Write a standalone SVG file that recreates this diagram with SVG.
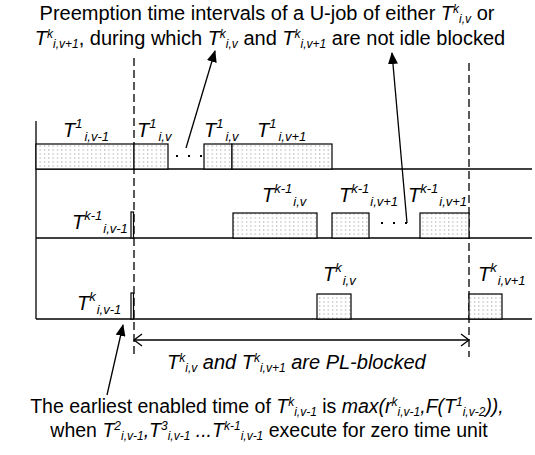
<svg xmlns="http://www.w3.org/2000/svg" width="535" height="455" viewBox="0 0 535 455">
<style>
text{font-family:"Liberation Sans",Arial,sans-serif;fill:#000}
.t{font-size:20px}
.b{font-size:19.5px}
.it{font-style:italic}
.s{font-size:12px}
.lb{font-size:20px;font-style:italic}
.ls{font-size:13px}
.ln{stroke:#000;stroke-width:1.3;fill:none}
.dash{stroke:#000;stroke-width:1.3;stroke-dasharray:8,4;fill:none}
.job{fill:url(#dots);stroke:#000;stroke-width:1.2}
.arr{stroke:#000;stroke-width:1.3;fill:none;marker-end:url(#ah)}
</style>
<defs>
<pattern id="dots" width="4.3" height="4" patternUnits="userSpaceOnUse">
<rect width="4.3" height="4" fill="#fff"/>
<rect x="1" y="1.5" width="1" height="1" fill="#888"/>
</pattern>
<marker id="ah" markerWidth="12" markerHeight="10" refX="11" refY="5" orient="auto" markerUnits="userSpaceOnUse">
<path d="M0,0 L12,5 L0,10 Z" fill="#000"/>
</marker>
</defs>

<g id="top-label">
<text class="t" x="267" y="20" text-anchor="middle">Preemption time intervals of a U-job of either <tspan class="it">T</tspan><tspan class="s it" dy="-7">k</tspan><tspan class="s it" dy="10">i,v</tspan><tspan dy="-3"> or</tspan></text>
<text class="t" x="270" y="44.5" text-anchor="middle"><tspan class="it">T</tspan><tspan class="s it" dy="-7">k</tspan><tspan class="s it" dy="10">i,v+1</tspan><tspan dy="-3">, during which </tspan><tspan class="it">T</tspan><tspan class="s it" dy="-7">k</tspan><tspan class="s it" dy="10">i,v</tspan><tspan dy="-3"> and </tspan><tspan class="it">T</tspan><tspan class="s it" dy="-7">k</tspan><tspan class="s it" dy="10">i,v+1</tspan><tspan dy="-3"> are not idle blocked</tspan></text>
</g>

<g id="axes">
<line class="ln" x1="36" y1="121" x2="36" y2="319"/>
<line class="ln" x1="36" y1="169" x2="532" y2="169"/>
<line class="ln" x1="36" y1="238" x2="532" y2="238"/>
<line class="ln" x1="36" y1="319" x2="532" y2="319"/>
<line class="dash" x1="134" y1="58" x2="134" y2="355"/>
<line class="dash" x1="469" y1="63" x2="469" y2="357"/>
</g>

<g id="row1">
<rect class="job" x="36" y="144" width="98" height="25"/>
<rect class="job" x="134" y="144" width="34" height="25"/>
<rect class="job" x="204" y="144" width="28" height="25"/>
<rect class="job" x="232" y="144" width="100" height="25"/>
<rect x="176" y="155" width="2" height="2"/>
<rect x="188" y="155" width="2" height="2"/>
<rect x="200" y="155" width="2" height="2"/>
<text class="lb" x="63" y="137">T<tspan class="ls" dy="-9">1</tspan><tspan class="ls" dx="2" dy="13">i,v-1</tspan></text>
<text class="lb" x="137" y="137">T<tspan class="ls" dy="-9">1</tspan><tspan class="ls" dx="2" dy="13">i,v</tspan></text>
<text class="lb" x="204" y="137">T<tspan class="ls" dy="-9">1</tspan><tspan class="ls" dx="2" dy="13">i,v</tspan></text>
<text class="lb" x="257" y="137">T<tspan class="ls" dy="-9">1</tspan><tspan class="ls" dx="2" dy="13">i,v+1</tspan></text>
</g>

<g id="row2">
<rect class="job" x="131" y="212" width="2.5" height="26"/>
<rect class="job" x="233" y="213" width="84" height="25"/>
<rect class="job" x="332" y="213" width="37" height="25"/>
<rect class="job" x="420" y="213" width="49" height="25"/>
<rect x="381" y="222" width="2" height="2"/>
<rect x="393" y="222" width="2" height="2"/>
<rect x="405" y="222" width="2" height="2"/>
<text class="lb" x="72" y="229">T<tspan class="ls" dy="-9">k-1</tspan><tspan class="ls" dx="1" dy="13">i,v-1</tspan></text>
<text class="lb" x="262" y="202">T<tspan class="ls" dy="-9">k-1</tspan><tspan class="ls" dx="1" dy="13">i,v</tspan></text>
<text class="lb" x="339" y="202">T<tspan class="ls" dy="-9">k-1</tspan><tspan class="ls" dx="1" dy="13">i,v+1</tspan></text>
<text class="lb" x="408" y="202">T<tspan class="ls" dy="-9">k-1</tspan><tspan class="ls" dx="1" dy="13">i,v+1</tspan></text>
</g>

<g id="row3">
<rect class="job" x="131" y="293" width="2.5" height="26"/>
<rect class="job" x="317" y="294" width="34" height="25"/>
<rect class="job" x="469" y="294" width="33" height="25"/>
<text class="lb" x="77" y="310">T<tspan class="ls" dy="-9">k</tspan><tspan class="ls" dx="1" dy="13">i,v-1</tspan></text>
<text class="lb" x="323" y="281">T<tspan class="ls" dy="-9">k</tspan><tspan class="ls" dx="1" dy="13">i,v</tspan></text>
<text class="lb" x="478" y="281">T<tspan class="ls" dy="-9">k</tspan><tspan class="ls" dx="1" dy="13">i,v+1</tspan></text>
</g>

<g id="connectors">
<line class="arr" x1="186" y1="148" x2="215" y2="51"/>
<line class="arr" x1="407" y1="223" x2="392" y2="53"/>
<line class="arr" x1="107" y1="395" x2="123" y2="325"/>
<line class="ln" x1="134" y1="340" x2="469" y2="340"/>
<polyline class="ln" points="142,334 134,340 142,346"/>
<polyline class="ln" points="461,334 469,340 461,346"/>
</g>

<g id="pl-label">
<text class="t it" x="167" y="369">T<tspan class="s" dy="-7">k</tspan><tspan class="s" dy="10">i,v</tspan><tspan dy="-3"> and </tspan>T<tspan class="s" dy="-7">k</tspan><tspan class="s" dy="10">i,v+1</tspan><tspan dy="-3"> are PL-blocked</tspan></text>
</g>

<g id="bottom-label">
<text class="b" x="267" y="413" text-anchor="middle">The earliest enabled time of <tspan class="it">T</tspan><tspan class="s it" dy="-7">k</tspan><tspan class="s it" dy="10">i,v-1</tspan><tspan dy="-3"> is </tspan><tspan class="it">max(r</tspan><tspan class="s it" dy="-7">k</tspan><tspan class="s it" dy="10">i,v-1</tspan><tspan class="it" dy="-3">,F(T</tspan><tspan class="s it" dy="-7">1</tspan><tspan class="s it" dy="10">i,v-2</tspan><tspan class="it" dy="-3">)),</tspan></text>
<text class="b" x="269" y="437" text-anchor="middle">when <tspan class="it">T</tspan><tspan class="s it" dy="-7">2</tspan><tspan class="s it" dy="10">i,v-1</tspan><tspan class="it" dy="-3">,T</tspan><tspan class="s it" dy="-7">3</tspan><tspan class="s it" dy="10">i,v-1</tspan><tspan class="it" dy="-3"> ...T</tspan><tspan class="s it" dy="-7">k-1</tspan><tspan class="s it" dy="10">i,v-1</tspan><tspan dy="-3"> execute for zero time unit</tspan></text>
</g>
</svg>
